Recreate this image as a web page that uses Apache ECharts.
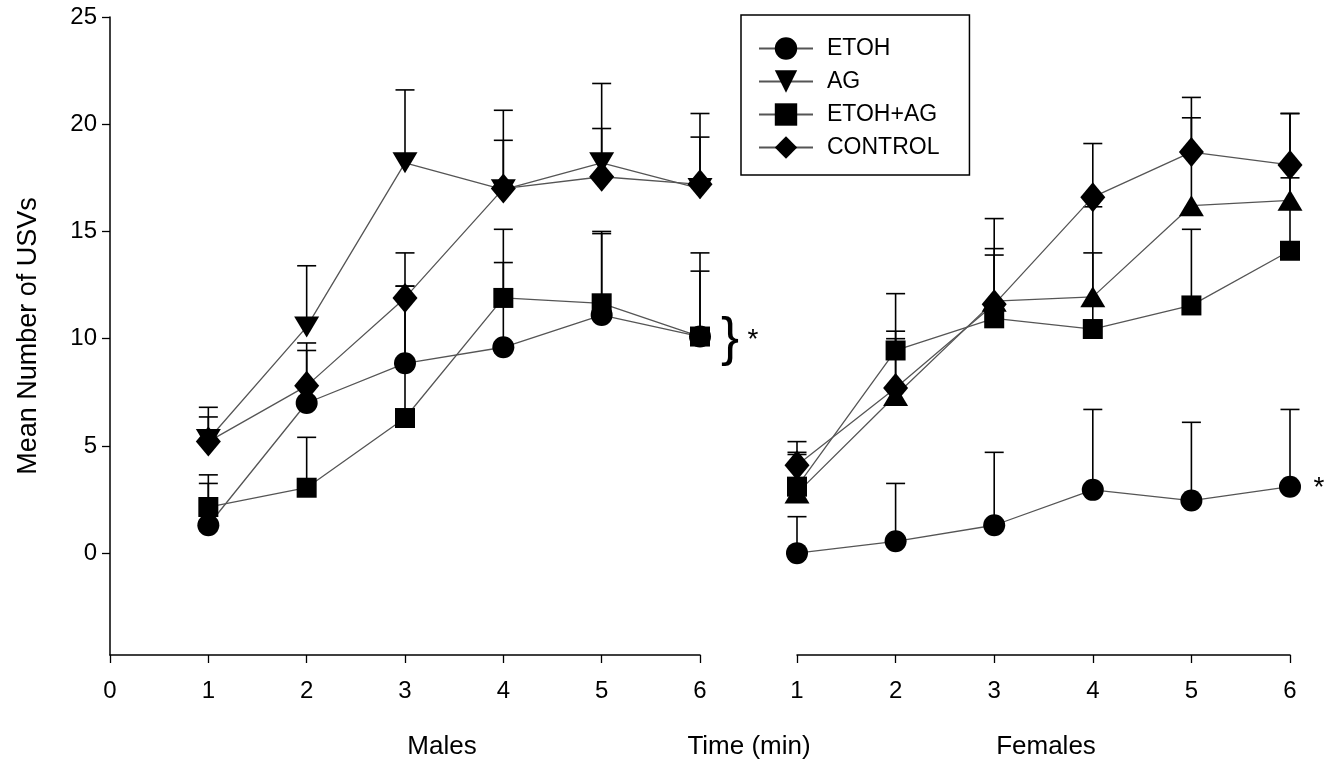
<!DOCTYPE html>
<html>
<head>
<meta charset="utf-8">
<script src="https://cdn.jsdelivr.net/npm/echarts@6/dist/echarts.min.js"></script>
<style>
  html, body { margin: 0; padding: 0; background: #fff; }
  #chart { width: 1339px; height: 770px; }
</style>
</head>
<body>
<div id="chart"></div>
<script>
// minutes on both panels
const minutes = [1, 2, 3, 4, 5, 6];
const yTicks = [0, 5, 10, 15, 20, 25];

// Males: means and tops of the error bars
const maleEtoh = [1.3, 7.0, 8.85, 9.6, 11.1, 10.1];
const maleEtohTop = [3.25, 9.45, 12.45, 13.55, 14.9, 13.15];
const maleAg = [5.3, 10.55, 18.2, 16.95, 18.2, 17.0];
const maleAgTop = [6.8, 13.4, 21.6, 19.25, 21.9, 19.4];
const maleEtohAg = [2.15, 3.05, 6.3, 11.9, 11.65, 10.1];
const maleEtohAgTop = [3.65, 5.4, 12.45, 15.1, 15.0, 14.0];
const maleControl = [5.2, 7.8, 11.9, 17.0, 17.55, 17.2];
const maleControlTop = [6.35, 9.8, 14.0, 20.65, 19.8, 20.5];

// Females
const femaleEtoh = [0.0, 0.55, 1.3, 2.95, 2.45, 3.1];
const femaleEtohTop = [1.7, 3.25, 4.7, 6.7, 6.1, 6.7];
const femaleAg = [2.8, 7.35, 11.75, 11.95, 16.2, 16.45];
const femaleAgTop = [4.6, 10.0, 14.2, 14.0, 20.3, 20.5];
const femaleEtohAg = [3.1, 9.45, 10.95, 10.45, 11.55, 14.1];
const femaleEtohAgTop = [4.7, 12.1, 13.9, 16.15, 15.1, 17.5];
const femaleControl = [4.1, 7.7, 11.6, 16.6, 18.7, 18.1];
const femaleControlTop = [5.2, 10.35, 15.6, 19.1, 21.25, 20.5];

const FONT = 'Liberation Sans, Arial, sans-serif';
const downTri = 'path://M0,0 L10,0 L5,8.6 Z';
const upTri = 'path://M5,0 L10,8.6 L0,8.6 Z';

function pairs(ys) {
  return minutes.map((m, i) => [m, ys[i]]);
}

function lineSeries(name, panel, ys, symbol, size) {
  return {
    name: name,
    type: 'line',
    xAxisIndex: panel,
    yAxisIndex: panel,
    data: pairs(ys),
    symbol: symbol,
    symbolSize: size,
    showSymbol: true,
    itemStyle: { color: '#000' },
    lineStyle: { color: '#555', width: 1.3 },
    z: 3
  };
}

function errorSeries(panel, ys, tops) {
  return {
    type: 'custom',
    xAxisIndex: panel,
    yAxisIndex: panel,
    silent: true,
    z: 2,
    encode: { x: 0, y: [1, 2] },
    data: minutes.map((m, i) => [m, ys[i], tops[i]]),
    renderItem: function (params, api) {
      let p = api.coord([api.value(0), api.value(1)]);
      let t = api.coord([api.value(0), api.value(2)]);
      let st = { stroke: '#000', lineWidth: 1.6 };
      return {
        type: 'group',
        children: [
          { type: 'line', shape: { x1: p[0], y1: p[1], x2: t[0], y2: t[1] }, style: st },
          { type: 'line', shape: { x1: t[0] - 9.5, y1: t[1], x2: t[0] + 9.5, y2: t[1] }, style: st }
        ]
      };
    }
  };
}

const axisLine = { show: true, onZero: false, lineStyle: { color: '#000', width: 1.5 } };
const tickStyle = { color: '#000', width: 1.3 };

function xAxis(panel, min) {
  return {
    gridIndex: panel,
    type: 'value',
    min: min,
    max: 6,
    interval: 1,
    axisLine: axisLine,
    axisTick: { show: true, length: 8, lineStyle: tickStyle },
    axisLabel: { fontSize: 24, fontFamily: FONT, color: '#000', margin: 24 },
    splitLine: { show: false }
  };
}

let chart = echarts.init(document.getElementById('chart'));
chart.setOption({
  animation: false,
  backgroundColor: '#fff',
  grid: [
    { left: 110, right: 639, top: 17, bottom: 115 },
    { left: 797, right: 49, top: 17, bottom: 115 }
  ],
  xAxis: [xAxis(0, 0), xAxis(1, 1)],
  yAxis: [
    {
      gridIndex: 0,
      type: 'value',
      min: -4.75,
      max: 25,
      axisLine: axisLine,
      axisTick: { show: true, length: 8, lineStyle: tickStyle, customValues: yTicks },
      axisLabel: { fontSize: 24, fontFamily: FONT, color: '#000', margin: 13, customValues: yTicks },
      splitLine: { show: false },
      name: 'Mean Number of USVs',
      nameLocation: 'middle',
      nameRotate: 90,
      nameGap: 68,
      nameTextStyle: { fontSize: 27, fontFamily: FONT, color: '#000' }
    },
    { gridIndex: 1, type: 'value', min: -4.75, max: 25, show: false, splitLine: { show: false } }
  ],
  legend: {
    orient: 'vertical',
    left: 741,
    top: 15,
    padding: [22, 30, 16, 17],
    itemWidth: 54,
    itemHeight: 28,
    itemGap: 10,
    borderColor: '#000',
    borderWidth: 1.5,
    textStyle: { fontSize: 23, fontFamily: FONT, color: '#000', padding: [0, 0, 0, 9] },
    data: ['ETOH', 'AG', 'ETOH+AG', 'CONTROL']
  },
  graphic: [
    { type: 'text', x: 442, y: 747, style: { text: 'Males', font: '26px ' + FONT, fill: '#000', textAlign: 'center', textVerticalAlign: 'middle' } },
    { type: 'text', x: 749, y: 747, style: { text: 'Time (min)', font: '26px ' + FONT, fill: '#000', textAlign: 'center', textVerticalAlign: 'middle' } },
    { type: 'text', x: 1046, y: 747, style: { text: 'Females', font: '26px ' + FONT, fill: '#000', textAlign: 'center', textVerticalAlign: 'middle' } },
    { type: 'text', x: 730, y: 340, style: { text: '}', font: '54px ' + FONT, fill: '#000', textAlign: 'center', textVerticalAlign: 'middle' } },
    { type: 'text', x: 753, y: 340, style: { text: '*', font: '28px ' + FONT, fill: '#000', textAlign: 'center', textVerticalAlign: 'middle' } },
    { type: 'text', x: 1319, y: 488, style: { text: '*', font: '28px ' + FONT, fill: '#000', textAlign: 'center', textVerticalAlign: 'middle' } }
  ],
  series: [
    errorSeries(0, maleEtoh, maleEtohTop),
    errorSeries(0, maleAg, maleAgTop),
    errorSeries(0, maleEtohAg, maleEtohAgTop),
    errorSeries(0, maleControl, maleControlTop),
    errorSeries(1, femaleEtoh, femaleEtohTop),
    errorSeries(1, femaleAg, femaleAgTop),
    errorSeries(1, femaleEtohAg, femaleEtohAgTop),
    errorSeries(1, femaleControl, femaleControlTop),
    lineSeries('ETOH', 0, maleEtoh, 'circle', 22),
    lineSeries('AG', 0, maleAg, downTri, [25, 21]),
    lineSeries('ETOH+AG', 0, maleEtohAg, 'rect', 20),
    lineSeries('CONTROL', 0, maleControl, 'diamond', [25, 30]),
    lineSeries('ETOH', 1, femaleEtoh, 'circle', 22),
    lineSeries('AG', 1, femaleAg, upTri, [25, 21]),
    lineSeries('ETOH+AG', 1, femaleEtohAg, 'rect', 20),
    lineSeries('CONTROL', 1, femaleControl, 'diamond', [25, 30])
  ]
});
window.addEventListener('resize', () => {
  chart.resize();
});
</script>
</body>
</html>
